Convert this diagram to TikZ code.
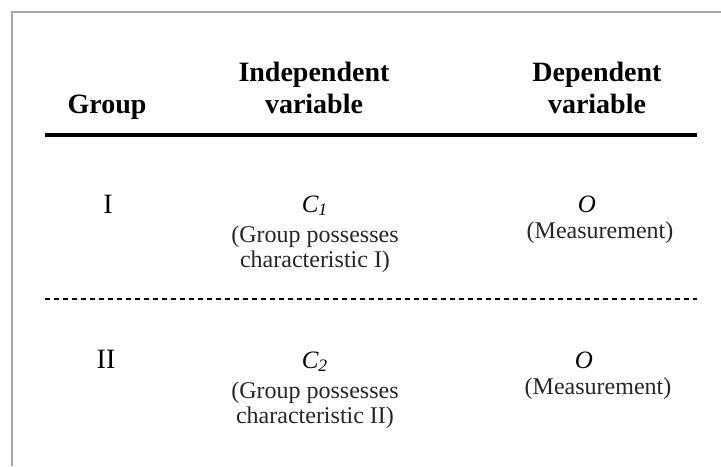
\documentclass[tikz,border=0pt]{standalone}
\usepackage{fontspec}
\setmainfont{Liberation Serif}
\usetikzlibrary{positioning}

\begin{document}
\begin{tikzpicture}[
    x=0.5pt, y=-0.5pt,
    node distance=4.5pt,
    head/.style={align=center, font=\fontsize{14}{16}\selectfont\bfseries, inner sep=0pt},
    grp/.style={font=\fontsize{14}{16}\selectfont, inner sep=0pt, anchor=base},
    sym/.style={font=\fontsize{12.5}{14}\selectfont\itshape, inner sep=0pt, anchor=base},
    desc/.style={align=center, font=\fontsize{12}{12.5}\selectfont, inner sep=0pt, text=black!85},
    toprule/.style={line width=2pt},
    midrule/.style={line width=1pt, dash pattern=on 2.5pt off 2pt},
    frame/.style={line width=1.2pt, draw=black!35}
]
    \useasboundingbox (0,0) rectangle (721,466);

    % frame (cut off at right and bottom)
    \coordinate (fbl) at (12,466);
    \coordinate (ftl) at (12,12);
    \coordinate (ftr) at (721,12);
    \draw[frame] (fbl) -- (ftl) -- (ftr);

    % header
    \node[head, anchor=base] (hgroup) at (107,113) {Group};
    \node[head, anchor=base] (hind) at (314,113) {Independent\\variable};
    \node[head, anchor=base] (hdep) at (597,113) {Dependent\\variable};

    \coordinate (rule1l) at (45,135);
    \coordinate (rule1r) at (697,135);
    \draw[toprule] (rule1l) -- (rule1r);

    % group I
    \node[grp] (g1) at (108,213) {I};
    \node[sym] (c1) at (315,212) {C\textsubscript{1}};
    \node[desc, below=of c1] (c1d) {(Group possesses\\characteristic I)};
    \node[sym] (o1) at (587,212) {O};
    \node[desc, below=of o1, xshift=6.5pt] (o1d) {(Measurement)};

    \coordinate (rule2l) at (45,299);
    \coordinate (rule2r) at (697,299);
    \draw[midrule] (rule2l) -- (rule2r);

    % group II
    \node[grp] (g2) at (106,368) {II};
    \node[sym] (c2) at (315,368) {C\textsubscript{2}};
    \node[desc, below=of c2] (c2d) {(Group possesses\\characteristic II)};
    \node[sym] (o2) at (584,368) {O};
    \node[desc, below=of o2, xshift=7pt] (o2d) {(Measurement)};
\end{tikzpicture}
\end{document}
